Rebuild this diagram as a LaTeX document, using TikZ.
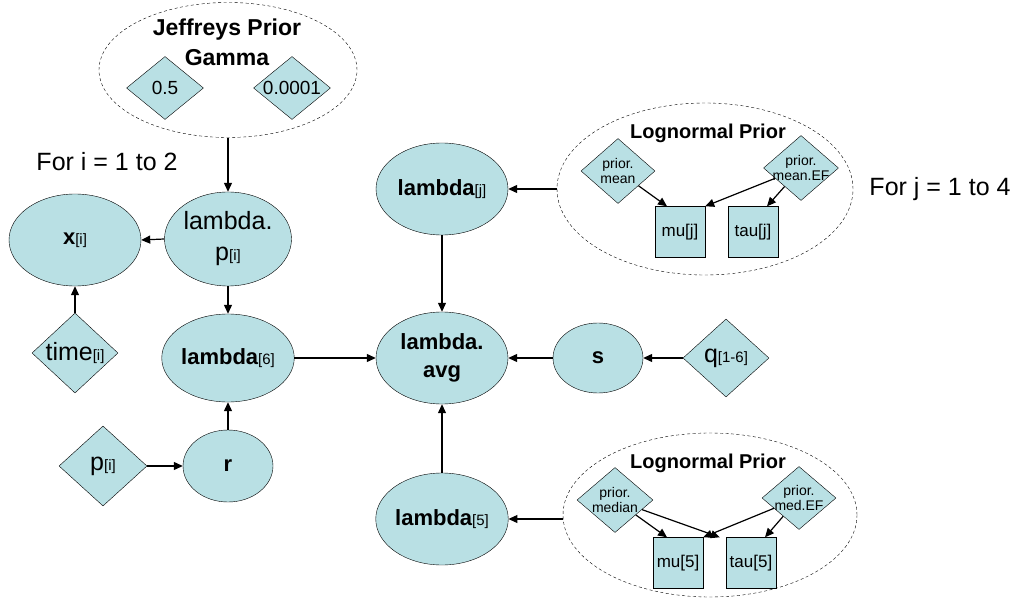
\documentclass[tikz,border=0pt]{standalone}
\usepackage{fontspec}
\setmainfont{Liberation Sans}
\usetikzlibrary{arrows.meta,shapes.geometric}
\definecolor{nodeblue}{RGB}{185,224,228}
\newcommand{\ix}[1]{{\fontsize{15}{15}\selectfont\mdseries #1}}
\tikzset{
  var/.style={ellipse,draw,fill=nodeblue,inner sep=0pt,align=center,font=\fontsize{22}{28}\selectfont\bfseries},
  cst/.style={diamond,draw,fill=nodeblue,inner sep=0pt},
  cfont/.style={font=\fontsize{25}{28}\selectfont,align=center},
  hfont/.style={font=\fontsize{14}{15}\selectfont,align=center},
  par/.style={rectangle,draw,fill=nodeblue,minimum width=50,minimum height=51,inner sep=0pt,font=\fontsize{17}{17}\selectfont},
  grp/.style={ellipse,draw,dash pattern=on 3pt off 2.5pt,inner sep=0pt},
  ttl/.style={font=\fontsize{20}{30}\selectfont\bfseries,align=center},
  arr/.style={-{Triangle[length=9pt,width=8pt]},line width=1.2pt},
}
\begin{document}
\begin{tikzpicture}[x=1pt,y=-1pt]
\useasboundingbox (0,0) rectangle (1019,609);
% Jeffreys prior group
\node[grp,minimum width=258,minimum height=135] (jeff) at (228,70) {};
\node[ttl,font=\fontsize{23}{30}\selectfont\bfseries] (jefft) at (227,42) {Jeffreys Prior\\Gamma};
\node[cst,minimum width=77,minimum height=63,label={[cfont,font=\fontsize{19}{20}\selectfont]center:0.5}] (ga) at (165,88) {};
\node[cst,minimum width=77,minimum height=63,label={[cfont,font=\fontsize{19}{20}\selectfont]center:0.0001}] (gb) at (292,88) {};
% left plate
\node[font=\fontsize{25}{28}\selectfont] (fori) at (107,162) {For i = 1 to 2};
\node[var,minimum width=132,minimum height=92] (x) at (75,240) {x\ix{[i]}};
\node[var,font=\fontsize{25}{31}\selectfont,minimum width=127,minimum height=94] (lp) at (228,239) {lambda.\\p\ix{[i]}};
\node[cst,minimum width=86,minimum height=80,label={[cfont]center:time\ix{[i]}}] (time) at (75,353) {};
\node[var,minimum width=130,minimum height=88] (l6) at (228,358) {lambda\ix{[6]}};
\node[var,minimum width=90,minimum height=72] (r) at (228,466) {r};
\node[cst,minimum width=88,minimum height=80,label={[cfont]center:p\ix{[i]}}] (p) at (103,466) {};
% centre column
\node[var,minimum width=132,minimum height=92] (lj) at (442,189) {lambda\ix{[j]}};
\node[var,minimum width=132,minimum height=92] (lavg) at (442,358) {lambda.\\avg};
\node[var,minimum width=132,minimum height=92] (l5) at (442,519) {lambda\ix{[5]}};
\node[var,minimum width=90,minimum height=70] (s) at (598,358) {s};
\node[cst,minimum width=86,minimum height=78,label={[cfont]center:q\ix{[1-6]}}] (q) at (726,358) {};
% upper lognormal group
\node[grp,minimum width=296,minimum height=172] (up) at (705,189) {};
\node[ttl] (upt) at (708,133) {Lognormal Prior};
\node[cst,minimum width=74,minimum height=65,label={[hfont]center:prior.\\mean}] (pm) at (618,171) {};
\node[cst,minimum width=75,minimum height=65,label={[hfont]center:prior.\\mean.EF}] (pmef) at (801,168) {};
\node[par] (muj) at (680,232) {mu[j]};
\node[par] (tauj) at (753,232) {tau[j]};
\node[font=\fontsize{25}{28}\selectfont] (forj) at (940,189) {For j = 1 to 4};
% lower lognormal group
\node[grp,minimum width=294,minimum height=164] (low) at (710,515) {};
\node[ttl] (lowt) at (708,463) {Lognormal Prior};
\node[cst,minimum width=76,minimum height=65,label={[hfont]center:prior.\\median}] (pmd) at (615,500) {};
\node[cst,minimum width=74,minimum height=63,label={[hfont]center:prior.\\med.EF}] (pmdef) at (799,498) {};
\node[par] (mu5) at (678,563) {mu[5]};
\node[par] (tau5) at (751,563) {tau[5]};
% connectors
\draw[arr] (jeff.south) -- (lp.north);
\draw[arr] (lp.west) -- (x.east);
\draw[arr] (time.north) -- (x.south);
\draw[arr] (lp.south) -- (l6.north);
\draw[arr] (r.north) -- (l6.south);
\draw[arr] (p.east) -- (r.west);
\draw[arr] (l6.east) -- (lavg.west);
\draw[arr] (lj.south) -- (lavg.north);
\draw[arr] (l5.north) -- (lavg.south);
\draw[arr] (s.west) -- (lavg.east);
\draw[arr] (q.west) -- (s.east);
\draw[arr] (up.west) -- (lj.east);
\draw[arr] (low.west |- l5.east) -- (l5.east);
\draw[arr] (pm) -- ([xshift=-13pt]muj.north);
\draw[arr] (pmef) -- (muj.north east);
\draw[arr] (pmef) -- ([xshift=14pt]tauj.north);
\draw[arr] (pmd) -- ([xshift=-11pt]mu5.north);
\draw[arr] (pmd) -- ([xshift=-6pt]tau5.north west);
\draw[arr] (pmdef) -- (mu5.north east);
\draw[arr] (pmdef) -- ([xshift=14pt]tau5.north);
\end{tikzpicture}
\end{document}
